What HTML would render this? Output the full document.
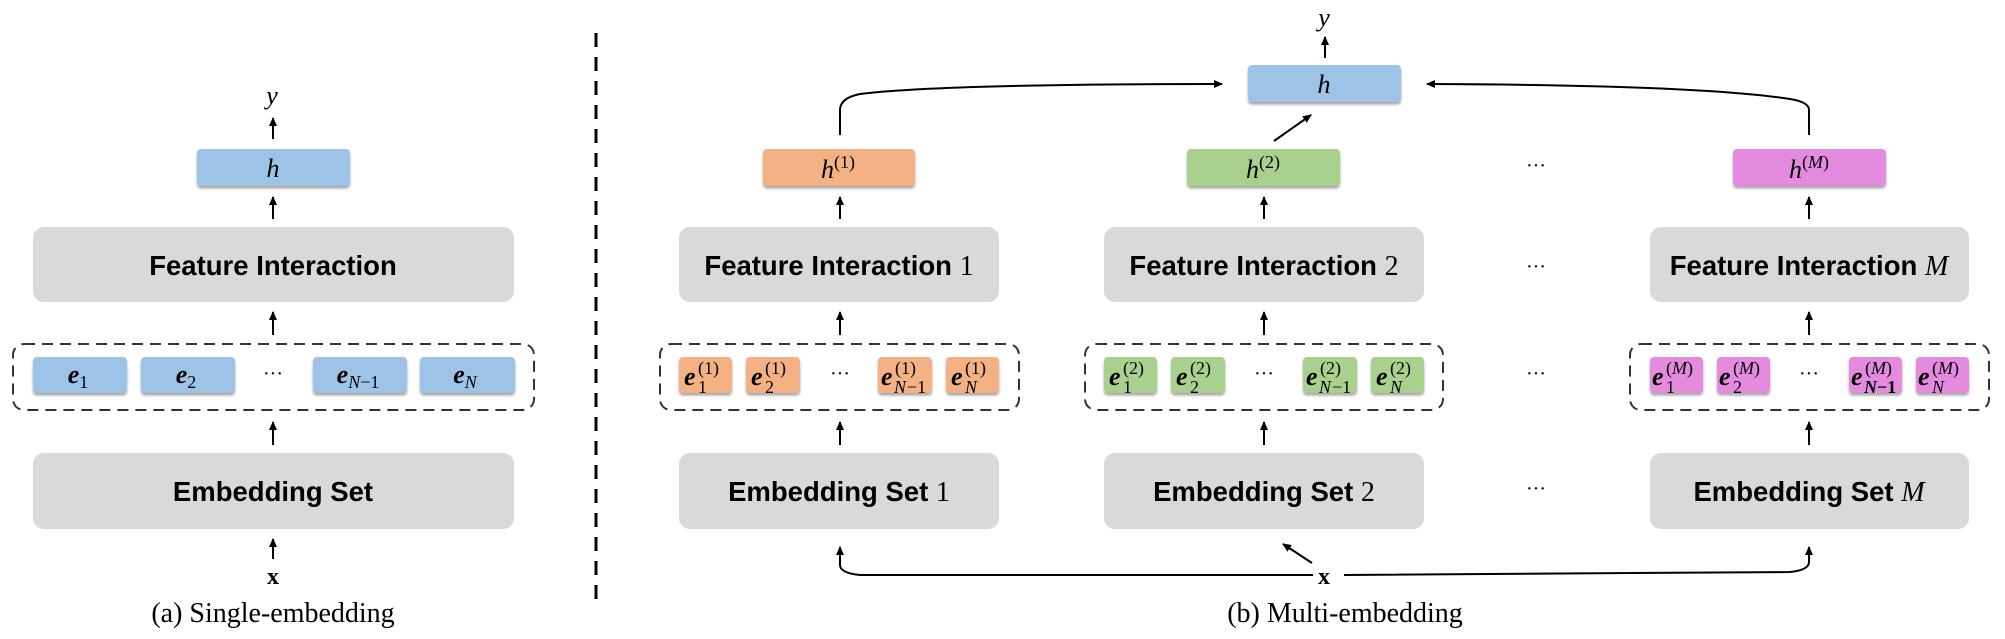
<!DOCTYPE html>
<html><head><meta charset="utf-8"><style>
html,body{margin:0;padding:0;background:#fff;}
svg{display:block;}
.t{font-family:"Liberation Sans",sans-serif;font-weight:bold;font-size:27.5px;fill:#000;}
.m{font-family:"Liberation Serif",serif;font-style:italic;font-size:26px;fill:#000;}
.r{font-family:"Liberation Serif",serif;font-size:24px;fill:#000;}
.e{font-family:"Liberation Serif",serif;font-style:italic;font-weight:bold;font-size:26px;fill:#000;}
.s{font-family:"Liberation Serif",serif;font-style:normal;font-weight:normal;font-size:18px;}
.i{font-style:italic;}
.b{font-weight:bold;}
.cap{font-family:"Liberation Serif",serif;font-size:28px;fill:#000;}
</style></head><body>
<svg width="2005" height="639" viewBox="0 0 2005 639" xmlns="http://www.w3.org/2000/svg">
<defs>
<marker id="a" markerWidth="10" markerHeight="10" refX="8" refY="5" orient="auto" markerUnits="userSpaceOnUse">
<path d="M0,1 L9,5 L0,9 z" fill="#000"/></marker>
<filter id="sh" x="-10%" y="-20%" width="120%" height="160%"><feDropShadow dx="0" dy="2.5" stdDeviation="1.2" flood-color="#000" flood-opacity="0.35"/></filter>
</defs>
<g stroke="#000" stroke-width="2" fill="none">
<line x1="273" y1="139" x2="273" y2="118" marker-end="url(#a)"/>
<line x1="273" y1="219" x2="273" y2="197" marker-end="url(#a)"/>
<line x1="273" y1="335" x2="273" y2="312" marker-end="url(#a)"/>
<line x1="273" y1="445" x2="273" y2="422" marker-end="url(#a)"/>
<line x1="273" y1="559" x2="273" y2="539" marker-end="url(#a)"/>
<line x1="840" y1="219" x2="840" y2="197" marker-end="url(#a)"/>
<line x1="840" y1="335" x2="840" y2="312" marker-end="url(#a)"/>
<line x1="840" y1="445" x2="840" y2="422" marker-end="url(#a)"/>
<line x1="1264" y1="219" x2="1264" y2="197" marker-end="url(#a)"/>
<line x1="1264" y1="335" x2="1264" y2="312" marker-end="url(#a)"/>
<line x1="1264" y1="445" x2="1264" y2="422" marker-end="url(#a)"/>
<line x1="1809" y1="219" x2="1809" y2="197" marker-end="url(#a)"/>
<line x1="1809" y1="335" x2="1809" y2="312" marker-end="url(#a)"/>
<line x1="1809" y1="445" x2="1809" y2="422" marker-end="url(#a)"/>
<line x1="1325" y1="58" x2="1325" y2="37" marker-end="url(#a)"/>
<line x1="1274" y1="141" x2="1311" y2="115" marker-end="url(#a)"/>
<path d="M840,135 L840,110 Q840,98 860,94 Q940,84 1222,84" marker-end="url(#a)"/>
<path d="M1809,135 L1809,110 Q1809,102 1790,99 Q1700,85 1427,84" marker-end="url(#a)"/>
<line x1="1312" y1="563" x2="1283" y2="544" marker-end="url(#a)"/>
<path d="M1313,575 L860,575 Q840,573 840,565 L840,547" marker-end="url(#a)"/>
<path d="M1344,575 L1790,572 Q1809,570 1809,562 L1809,547" marker-end="url(#a)"/>
</g>
<line x1="596" y1="33" x2="596" y2="602" stroke="#000" stroke-width="3" stroke-dasharray="14,10"/>
<g fill="#d9d9d9">
<rect x="33" y="227" width="481" height="75" rx="11"/>
<rect x="33" y="453" width="481" height="76" rx="11"/>
<rect x="679" y="227" width="320" height="75" rx="11"/>
<rect x="679" y="453" width="320" height="76" rx="11"/>
<rect x="1104" y="227" width="320" height="75" rx="11"/>
<rect x="1104" y="453" width="320" height="76" rx="11"/>
<rect x="1650" y="227" width="319" height="75" rx="11"/>
<rect x="1650" y="453" width="319" height="76" rx="11"/>
</g>
<g fill="none" stroke="#333" stroke-width="2" stroke-dasharray="11,7">
<rect x="13" y="344" width="521" height="66" rx="11"/>
<rect x="660" y="344" width="359" height="66" rx="11"/>
<rect x="1085" y="344" width="358" height="66" rx="11"/>
<rect x="1630" y="344" width="359" height="66" rx="11"/>
</g>
<g filter="url(#sh)">
<rect x="197" y="149" width="153" height="37" rx="4" fill="#9dc3e6"/>
<rect x="1248" y="65" width="153" height="37" rx="4" fill="#9dc3e6"/>
<rect x="763" y="149" width="152" height="37" rx="4" fill="#f4b183"/>
<rect x="1187" y="149" width="153" height="37" rx="4" fill="#a9d18e"/>
<rect x="1733" y="149" width="153" height="37" rx="4" fill="#e48be0"/>
<g fill="#9dc3e6">
<rect x="33" y="357" width="94" height="36" rx="4"/><rect x="141" y="357" width="94" height="36" rx="4"/>
<rect x="313" y="357" width="94" height="36" rx="4"/><rect x="420" y="357" width="95" height="36" rx="4"/></g>
<g fill="#f4b183">
<rect x="679" y="357" width="53" height="36" rx="4"/><rect x="746" y="357" width="54" height="36" rx="4"/>
<rect x="878" y="357" width="54" height="36" rx="4"/><rect x="946" y="357" width="53" height="36" rx="4"/></g>
<g fill="#a9d18e">
<rect x="1104" y="357" width="53" height="36" rx="4"/><rect x="1171" y="357" width="54" height="36" rx="4"/>
<rect x="1303" y="357" width="54" height="36" rx="4"/><rect x="1371" y="357" width="53" height="36" rx="4"/></g>
<g fill="#e48be0">
<rect x="1650" y="357" width="53" height="36" rx="4"/><rect x="1717" y="357" width="53" height="36" rx="4"/>
<rect x="1849" y="357" width="53" height="36" rx="4"/><rect x="1916" y="357" width="53" height="36" rx="4"/></g>
</g>
<g text-anchor="middle">
<text class="t" x="273" y="275">Feature Interaction</text>
<text class="t" x="273" y="501">Embedding Set</text>
<text class="t" x="839" y="275">Feature Interaction <tspan class="r" style="font-weight:normal;font-size:28px">1</tspan></text>
<text class="t" x="839" y="501">Embedding Set <tspan class="r" style="font-weight:normal;font-size:28px">1</tspan></text>
<text class="t" x="1264" y="275">Feature Interaction <tspan class="r" style="font-weight:normal;font-size:28px">2</tspan></text>
<text class="t" x="1264" y="501">Embedding Set <tspan class="r" style="font-weight:normal;font-size:28px">2</tspan></text>
<text class="t" x="1809" y="275">Feature Interaction <tspan class="m" style="font-weight:normal;font-size:28px">M</tspan></text>
<text class="t" x="1809" y="501">Embedding Set <tspan class="m" style="font-weight:normal;font-size:28px">M</tspan></text>
<text class="m" x="272" y="104">y</text>
<text class="m" x="273" y="177">h</text>
<text class="m" x="1324" y="26">y</text>
<text class="m" x="1324" y="93">h</text>
<text class="m" x="838" y="178">h<tspan class="s" dy="-10">(1)</tspan></text>
<text class="m" x="1263" y="178">h<tspan class="s" dy="-10">(2)</tspan></text>
<text class="m" x="1809" y="178">h<tspan class="s" dy="-10">(</tspan><tspan class="s" style="font-style:italic">M</tspan><tspan class="s">)</tspan></text>
<text class="r" x="273" y="584" style="font-weight:bold">x</text>
<text class="r" x="1324" y="584" style="font-weight:bold">x</text>
<text class="cap" x="273" y="622">(a) Single-embedding</text>
<text class="cap" x="1345" y="622">(b) Multi-embedding</text>
<g class="r" style="font-size:20px">
<text x="273" y="380">···</text><text x="840" y="380">···</text><text x="1264" y="380">···</text><text x="1809" y="380">···</text>
<text x="1536" y="172">···</text><text x="1536" y="273">···</text><text x="1536" y="380">···</text><text x="1536" y="495">···</text>
</g>
<text class="e" x="78" y="383">e<tspan class="s" dy="5">1</tspan></text>
<text class="e" x="186" y="383">e<tspan class="s" dy="5">2</tspan></text>
<text class="e" x="358" y="383">e<tspan class="s" style="font-style:italic" dy="5">N</tspan><tspan class="s">−1</tspan></text>
<text class="e" x="465" y="383">e<tspan class="s" style="font-style:italic" dy="5">N</tspan></text>
</g>
<g class="e">
<text x="684" y="385">e</text><text x="751" y="385">e</text><text x="881" y="385">e</text><text x="951" y="385">e</text>
<text x="1109" y="385">e</text><text x="1176" y="385">e</text><text x="1306" y="385">e</text><text x="1376" y="385">e</text>
<text x="1652" y="385">e</text><text x="1719" y="385">e</text><text x="1851" y="385">e</text><text x="1918" y="385">e</text>
</g>
<g class="s" fill="#000">
<text x="698" y="374">(1)</text><text x="765" y="374">(1)</text><text x="895" y="374">(1)</text><text x="965" y="374">(1)</text>
<text x="1123" y="374">(2)</text><text x="1190" y="374">(2)</text><text x="1320" y="374">(2)</text><text x="1390" y="374">(2)</text>
<text x="1666" y="374">(<tspan style="font-style:italic">M</tspan>)</text><text x="1733" y="374">(<tspan style="font-style:italic">M</tspan>)</text><text x="1865" y="374">(<tspan style="font-style:italic">M</tspan>)</text><text x="1932" y="374">(<tspan style="font-style:italic">M</tspan>)</text>
<text x="698" y="393">1</text><text x="765" y="393">2</text><text x="894" y="393" style="font-style:italic">N</text><text x="907" y="393">−1</text><text x="965" y="393" style="font-style:italic">N</text>
<text x="1123" y="393">1</text><text x="1190" y="393">2</text><text x="1319" y="393" style="font-style:italic">N</text><text x="1332" y="393">−1</text><text x="1390" y="393" style="font-style:italic">N</text>
<text x="1666" y="393">1</text><text x="1733" y="393">2</text><text x="1864" y="393" style="font-style:italic;font-weight:bold">N</text><text x="1877" y="393" style="font-weight:bold">−1</text><text x="1932" y="393" style="font-style:italic">N</text>
</g>
</svg>
</body></html>
